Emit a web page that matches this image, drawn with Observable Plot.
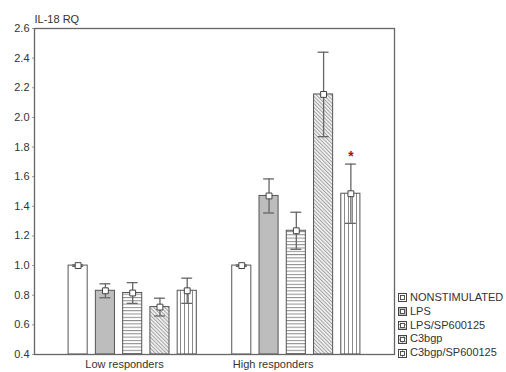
<!DOCTYPE html>
<html>
<head>
<meta charset="utf-8">
<script src="https://cdn.jsdelivr.net/npm/d3@7"></script>
<script src="https://cdn.jsdelivr.net/npm/@observablehq/plot@0.6"></script>
<style>
  html, body { margin: 0; padding: 0; background: #fff; }
  #wrap { position: relative; width: 506px; height: 372px; font-family: "Liberation Sans", Arial, sans-serif; }
  #legend { position: absolute; left: 398px; top: 291px; font-size: 11px; color: #333; line-height: 13.8px; }
  #legend div { display: flex; align-items: center; white-space: nowrap; }
  #legend svg { margin-right: 3px; }
</style>
</head>
<body>
<div id="wrap"><div id="legend"></div></div>
<script>
// ---- data ----
const series = ["NONSTIMULATED", "LPS", "LPS/SP600125", "C3bgp", "C3bgp/SP600125"];
const groups = ["Low responders", "High responders"];
const lowMeans  = [1.00, 0.83, 0.815, 0.72, 0.83];
const lowErr    = [0.005, 0.047, 0.07, 0.06, 0.085];
const highMeans = [1.00, 1.47, 1.235, 2.155, 1.485];
const highErr   = [0.005, 0.115, 0.125, 0.285, 0.20];
const lowMarks  = ["", "", "", "", ""];
const highMarks = ["", "", "", "", "*"];
const yTicks = [0.4, 0.6, 0.8, 1.0, 1.2, 1.4, 1.6, 1.8, 2.0, 2.2, 2.4, 2.6];
const yLabel = "IL-18 RQ";

// ---- styles ----
const fills = ["#ffffff", "#bdbdbd", "url(#pat-h)", "url(#pat-d)", "url(#pat-v)"];

const rows = [];
[[lowMeans, lowErr, lowMarks], [highMeans, highErr, highMarks]].forEach(([m, e, s], g) => {
  series.forEach((name, i) => {
    rows.push({group: groups[g], g, i, series: name, pos: g * 6 + i, mean: m[i], err: e[i], mark: s[i], fill: fills[i]});
  });
});

const groupTickPos = [1.7, 7.15];
const half = 0.35, cap = 0.2;

const chart = Plot.plot({
  width: 506,
  height: 372,
  marginTop: 28,
  marginBottom: 18,
  marginLeft: 34,
  marginRight: 112,
  style: {fontFamily: "Liberation Sans, Arial, sans-serif", fontSize: "11px", color: "#333", background: "transparent"},
  x: {domain: [-1.6, 11.6], axis: null},
  y: {domain: [0.4, 2.6], axis: null},
  color: {type: "identity"},
  marks: [
    Plot.rectY(rows, {x1: d => d.pos - half, x2: d => d.pos + half, y1: 0.4, y2: "mean", fill: "fill", stroke: "#555", strokeWidth: 1}),
    Plot.ruleX(rows, {x: "pos", y1: d => d.mean - d.err, y2: d => d.mean + d.err, stroke: "#666", strokeWidth: 1.3}),
    Plot.ruleY(rows, {y: d => d.mean + d.err, x1: d => d.pos - cap, x2: d => d.pos + cap, stroke: "#666", strokeWidth: 1.3}),
    Plot.ruleY(rows, {y: d => d.mean - d.err, x1: d => d.pos - cap, x2: d => d.pos + cap, stroke: "#666", strokeWidth: 1.3}),
    Plot.dot(rows, {x: "pos", y: "mean", symbol: "square", r: 3.3, fill: "white", stroke: "#444", strokeWidth: 1}),
    Plot.text(rows.filter(d => d.mark), {x: "pos", y: d => d.mean + d.err, text: "mark", dy: -8, fill: "#b01010", fontSize: 14, fontWeight: "bold"}),
    Plot.axisY({ticks: yTicks, tickFormat: d3.format(".1f"), tickSize: 2, tickPadding: 3, stroke: "#999", label: null}),
    Plot.axisX({ticks: groupTickPos, tickFormat: (d, i) => groups[i], tickSize: 0, tickPadding: 6, label: null}),
    Plot.text([yLabel], {text: d => d, frameAnchor: "top-left", textAnchor: "start", dy: -13, fill: "#333"}),
    Plot.frame({stroke: "#666", strokeWidth: 1.3})
  ]
});

// pattern definitions
const ns = "http://www.w3.org/2000/svg";
function makeDefs() {
  const defs = document.createElementNS(ns, "defs");
  defs.innerHTML = `
    <pattern id="pat-h" patternUnits="userSpaceOnUse" width="4" height="3.3">
      <rect width="4" height="3.3" fill="#fff"/>
      <line x1="0" y1="0.5" x2="4" y2="0.5" stroke="#8a8a8a" stroke-width="1"/>
    </pattern>
    <pattern id="pat-d" patternUnits="userSpaceOnUse" width="2.6" height="4" patternTransform="rotate(-45)">
      <rect width="2.6" height="4" fill="#f2f2f2"/>
      <line x1="0.5" y1="0" x2="0.5" y2="4" stroke="#9a9a9a" stroke-width="0.9"/>
    </pattern>
    <pattern id="pat-v" patternUnits="userSpaceOnUse" width="4" height="4">
      <rect width="4" height="4" fill="#fff"/>
      <line x1="0.5" y1="0" x2="0.5" y2="4" stroke="#8a8a8a" stroke-width="1"/>
    </pattern>`;
  return defs;
}
chart.insertBefore(makeDefs(), chart.firstChild);
chart.style.position = "absolute";
chart.style.left = "0";
chart.style.top = "0";
document.getElementById("wrap").appendChild(chart);

// legend
const legend = document.getElementById("legend");
series.forEach((name, i) => {
  const row = document.createElement("div");
  const sw = document.createElementNS(ns, "svg");
  sw.setAttribute("width", 9);
  sw.setAttribute("height", 9);
  sw.innerHTML = `<rect x="0.5" y="0.5" width="8" height="8" fill="${fills[i]}" stroke="#444"/>
    <rect x="2.5" y="2.5" width="4" height="4" fill="white" stroke="#444" stroke-width="0.9"/>`;
  row.appendChild(sw);
  const t = document.createElement("span");
  t.textContent = name;
  row.appendChild(t);
  legend.appendChild(row);
});
</script>
</body>
</html>
